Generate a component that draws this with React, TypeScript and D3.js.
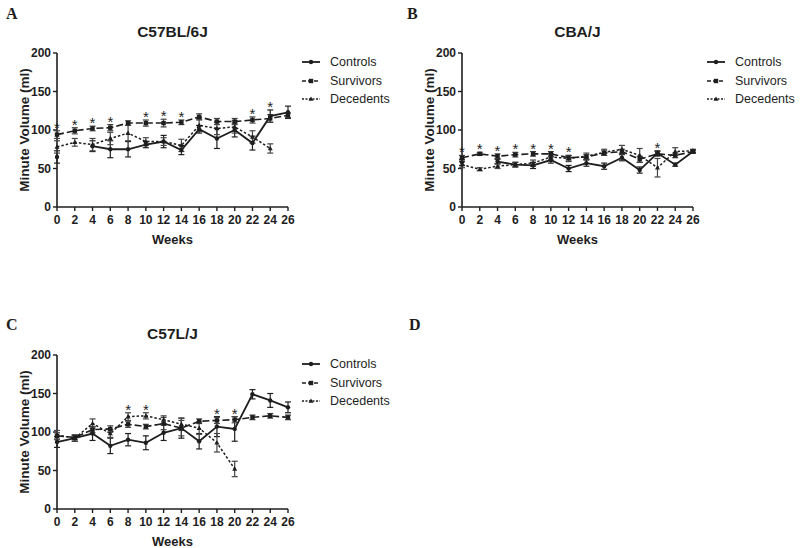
import React from "react";
import * as d3 from "d3";

const weeks = [0, 2, 4, 6, 8, 10, 12, 14, 16, 18, 20, 22, 24, 26];
const yTicks = [0, 50, 100, 150, 200];
const seriesNames = ["Controls", "Survivors", "Decedents"];

// Panel A: C57BL/6J
const aControls = [65, null, 79, 75, 75, 81, 85, 74, 101, 89, 100, 83, 118, 123];
const aControlsErr = [8, null, 7, 11, 10, 4, 8, 6, 5, 13, 9, 9, 8, 8];
const aSurvivors = [94, 99, 102, 103, 109, 109, 109, 110, 117, 111, 111, 113, 115, 119];
const aSurvivorsErr = [5, 4, 3, 4, 3, 4, 5, 3, 4, 4, 4, 4, 5, 3];
const aDecedents = [78, 84, 81, 89, 96, 85, 85, 80, 106, 102, 104, 91, 76, null];
const aDecedentsErr = [8, 5, 8, 8, 10, 5, 5, 8, 8, 8, 8, 8, 6, null];
const aStars = [0, 2, 4, 6, 10, 12, 14, 22, 24];

// Panel B: CBA/J
const bControls = [58, null, 59, 55, 54, 61, 50, 57, 53, 64, 48, 70, 55, 72];
const bControlsErr = [4, null, 3, 3, 4, 4, 4, 4, 4, 4, 4, 3, 2, 2];
const bSurvivors = [64, 69, 66, 68, 69, 69, 64, 65, 70, 72, 62, 69, 67, 72];
const bSurvivorsErr = [3, 2, 3, 3, 3, 3, 3, 3, 3, 3, 4, 3, 3, 2];
const bDecedents = [55, 49, 53, 55, 57, 65, 63, 66, 71, 75, 67, 51, 72, 73];
const bDecedentsErr = [4, 2, 3, 3, 4, 4, 4, 4, 4, 5, 9, 12, 5, 2];
const bStars = [0, 2, 4, 6, 8, 10, 12, 22];

// Panel C: C57L/J
const cControls = [87, 92, 98, 82, 90, 86, 99, 105, 88, 107, 104, 149, 141, 132];
const cControlsErr = [7, 4, 9, 10, 8, 9, 10, 13, 10, 13, 16, 6, 9, 7];
const cSurvivors = [95, 93, 103, 104, 110, 107, 111, 105, 114, 115, 116, 119, 121, 119];
const cSurvivorsErr = [4, 3, 4, 4, 4, 3, 8, 10, 3, 4, 4, 3, 3, 3];
const cDecedents = [96, 92, 111, 98, 120, 121, 116, 110, 105, 86, 52, null, null, null];
const cDecedentsErr = [6, 4, 6, 5, 5, 4, 5, 8, 8, 12, 10, null, null, null];
const cStars = [8, 10, 18, 20];

const FONT = "'Liberation Sans', Arial, sans-serif";
const INK = "#1e1e1e";

const styles = [
  { dash: "none", width: 1.8, marker: "circle" },
  { dash: "7,3", width: 1.6, marker: "square" },
  { dash: "2.5,2", width: 1.5, marker: "triangle" },
];

function Marker({ kind, x, y }: { kind: string; x: number; y: number }) {
  if (kind === "circle") return <circle cx={x} cy={y} r={2.2} fill={INK} />;
  if (kind === "square") return <rect x={x - 2.2} y={y - 2.2} width={4.4} height={4.4} fill={INK} />;
  return <path d={`M${x},${y - 2.6}L${x + 2.5},${y + 1.8}L${x - 2.5},${y + 1.8}Z`} fill={INK} />;
}

type PanelProps = {
  letter: string;
  title: string;
  data: (number | null)[][];
  errs: (number | null)[][];
  stars: number[];
  x0: number;
  top: number;
  letterX: number;
  letterY: number;
};

function Panel({ letter, title, data, errs, stars, x0, top, letterX, letterY }: PanelProps) {
  const h = 154;
  const w = 231;
  const x = d3.scaleLinear().domain([0, 26]).range([x0, x0 + w]);
  const y = d3.scaleLinear().domain([0, 200]).range([top + h, top]);
  const line = d3
    .line<number | null>()
    .defined((d) => d != null)
    .x((_, i) => x(weeks[i]))
    .y((d) => y(d as number));

  const legendX = x0 + 273;
  const legendYs = [top + 9, top + 28, top + 46];

  return (
    <g>
      <text x={letterX} y={letterY} fontFamily="'Liberation Serif', 'DejaVu Serif', serif" fontWeight="bold" fontSize={16} fill={INK}>
        {letter}
      </text>
      {title && (
        <text x={x0 + w / 2} y={top - 16} textAnchor="middle" fontFamily={FONT} fontWeight="bold" fontSize={15.5} fill={INK}>
          {title}
        </text>
      )}
      {data.length > 0 && (
        <g>
          <line x1={x0} x2={x0} y1={top} y2={top + h} stroke={INK} strokeWidth={1.6} />
          <line x1={x0} x2={x0 + w} y1={top + h} y2={top + h} stroke={INK} strokeWidth={1.6} />
          {yTicks.map((t) => (
            <g key={"y" + t}>
              <line x1={x0 - 4} x2={x0} y1={y(t)} y2={y(t)} stroke={INK} strokeWidth={1.4} />
              <text x={x0 - 6} y={y(t)} dy="0.36em" textAnchor="end" fontFamily={FONT} fontWeight="bold" fontSize={12} fill={INK}>
                {t}
              </text>
            </g>
          ))}
          {weeks.map((t) => (
            <g key={"x" + t}>
              <line x1={x(t)} x2={x(t)} y1={top + h} y2={top + h + 4} stroke={INK} strokeWidth={1.4} />
              <text x={x(t)} y={top + h + 17} textAnchor="middle" fontFamily={FONT} fontWeight="bold" fontSize={12} fill={INK}>
                {t}
              </text>
            </g>
          ))}
          <text
            transform={`translate(${x0 - 33},${top + h / 2}) rotate(-90)`}
            textAnchor="middle"
            dy="0.35em"
            fontFamily={FONT}
            fontWeight="bold"
            fontSize={13.5}
            fill={INK}
          >
            Minute Volume (ml)
          </text>
          <text x={x0 + w / 2} y={top + h + 37} textAnchor="middle" fontFamily={FONT} fontWeight="bold" fontSize={13} fill={INK}>
            Weeks
          </text>

          {data.map((series, si) =>
            series.map((v, i) => {
              const e = errs[si][i];
              if (v == null || e == null) return null;
              const cx = x(weeks[i]);
              return (
                <g key={`e${si}-${i}`} stroke={si === 0 ? INK : "#444"} strokeWidth={1.2}>
                  <line x1={cx} x2={cx} y1={y(v - e)} y2={y(v + e)} />
                  <line x1={cx - 3} x2={cx + 3} y1={y(v - e)} y2={y(v - e)} />
                  <line x1={cx - 3} x2={cx + 3} y1={y(v + e)} y2={y(v + e)} />
                </g>
              );
            })
          )}
          {data.map((series, si) => (
            <path
              key={"l" + si}
              d={line(series) || ""}
              fill="none"
              stroke={INK}
              strokeWidth={styles[si].width}
              strokeDasharray={styles[si].dash}
            />
          ))}
          {data.map((series, si) =>
            series.map((v, i) =>
              v == null ? null : <Marker key={`m${si}-${i}`} kind={styles[si].marker} x={x(weeks[i])} y={y(v)} />
            )
          )}
          {stars.map((wk) => {
            const i = weeks.indexOf(wk);
            let topV = -Infinity;
            data.forEach((s, si) => {
              const v = s[i];
              const e = errs[si][i] || 0;
              if (v != null) topV = Math.max(topV, v + e);
            });
            const cy = y(topV) - 6;
            return (
              <text key={"s" + wk} x={x(wk)} y={cy + 8} textAnchor="middle" fontFamily={FONT} fontSize={15} fill={INK}>
                *
              </text>
            );
          })}
          {seriesNames.map((name, si) => (
            <g key={"lg" + si}>
              <line
                x1={legendX - 28}
                x2={legendX - 10}
                y1={legendYs[si]}
                y2={legendYs[si]}
                stroke={INK}
                strokeWidth={styles[si].width}
                strokeDasharray={styles[si].dash === "none" ? "none" : si === 1 ? "4,2" : "2,1.5"}
              />
              <Marker kind={styles[si].marker} x={legendX - 19} y={legendYs[si]} />
              <text x={legendX} y={legendYs[si]} dy="0.35em" fontFamily={FONT} fontSize={12.5} fill={INK}>
                {name}
              </text>
            </g>
          ))}
        </g>
      )}
    </g>
  );
}

export default function App() {
  return (
    <svg width={800} height={548} style={{ position: "absolute", left: 0, top: 0, background: "#fff" }}>
      <rect width={800} height={548} fill="#fff" />
      <Panel
        letter="A"
        title="C57BL/6J"
        data={[aControls, aSurvivors, aDecedents]}
        errs={[aControlsErr, aSurvivorsErr, aDecedentsErr]}
        stars={aStars}
        x0={57}
        top={53}
        letterX={6}
        letterY={19}
      />
      <Panel
        letter="B"
        title="CBA/J"
        data={[bControls, bSurvivors, bDecedents]}
        errs={[bControlsErr, bSurvivorsErr, bDecedentsErr]}
        stars={bStars}
        x0={462}
        top={53}
        letterX={407}
        letterY={19}
      />
      <Panel
        letter="C"
        title="C57L/J"
        data={[cControls, cSurvivors, cDecedents]}
        errs={[cControlsErr, cSurvivorsErr, cDecedentsErr]}
        stars={cStars}
        x0={57}
        top={355}
        letterX={6}
        letterY={330}
      />
      <Panel letter="D" title="" data={[]} errs={[]} stars={[]} x0={462} top={355} letterX={409} letterY={330} />
    </svg>
  );
}
